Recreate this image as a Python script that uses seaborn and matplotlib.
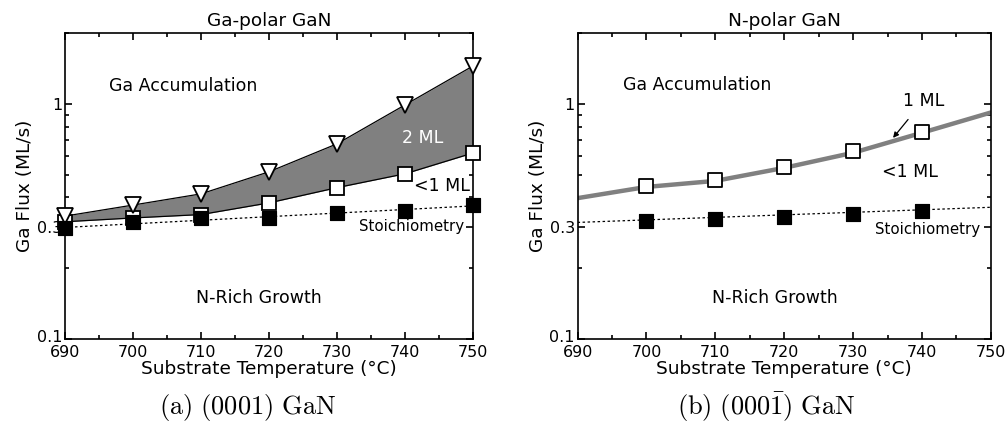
import numpy as np
import matplotlib
matplotlib.use('Agg')
import matplotlib.pyplot as plt
import matplotlib.transforms as mtransforms
import seaborn as sns
from matplotlib.ticker import MultipleLocator, LogLocator, NullFormatter, FixedLocator

sns.set_style('ticks')
plt.rcParams['font.family'] = ['DejaVu Sans']
plt.rcParams['mathtext.fontset'] = 'cm'
for k in ['text.color', 'axes.labelcolor', 'xtick.color', 'ytick.color', 'axes.edgecolor']:
    plt.rcParams[k] = 'black'

# Ga-polar (0001) data
temp_a = [690, 700, 710, 720, 730, 740, 750]
two_ml_a = [0.333, 0.371, 0.414, 0.514, 0.676, 0.99, 1.45]
one_ml_a = [0.315, 0.327, 0.338, 0.379, 0.44, 0.504, 0.618]
stoich_a = [0.297, 0.313, 0.326, 0.326, 0.344, 0.35, 0.372]
stoich_fit_x_a = [690, 750]
stoich_fit_a = [0.298, 0.368]

# N-polar (000-1) data
temp_b = [700, 710, 720, 730, 740]
one_ml_b = [0.449, 0.473, 0.538, 0.627, 0.762]
stoich_b = [0.316, 0.323, 0.329, 0.339, 0.35]
curve_x_b = [690, 700, 710, 720, 730, 740, 750]
curve_b = [0.397, 0.443, 0.47, 0.534, 0.619, 0.753, 0.918]
stoich_fit_x_b = [690, 750]
stoich_fit_b = [0.313, 0.363]

fig = plt.figure(figsize=(10.08, 4.28), dpi=100)
ax1 = fig.add_axes([0.0645, 0.208, 0.405, 0.715])
ax2 = fig.add_axes([0.573, 0.208, 0.410, 0.715])


def style_axis(ax, title):
    ax.set_yscale('log')
    ax.set_xlim(690, 750)
    ax.set_ylim(0.1, 2.0)
    ax.xaxis.set_major_locator(MultipleLocator(10))
    ax.xaxis.set_minor_locator(MultipleLocator(5))
    ax.yaxis.set_major_locator(FixedLocator([0.1, 0.3, 1]))
    ax.yaxis.set_minor_locator(LogLocator(base=10, subs=np.arange(2, 10)))
    ax.yaxis.set_minor_formatter(NullFormatter())
    ax.set_yticklabels(['0.1', '0.3', '1'])
    ax.tick_params(which='both', direction='in', top=True, right=True,
                   labelsize=11.5, width=1.2)
    ax.tick_params(which='major', length=5, pad=2)
    ax.tick_params(axis='x', which='major', pad=4)
    ax.tick_params(which='minor', length=3)
    for s in ax.spines.values():
        s.set_linewidth(1.2)
        s.set_visible(True)
    ax.set_xlabel('Substrate Temperature (°C)', fontsize=13.3, labelpad=0)
    ax.set_ylabel('Ga Flux (ML/s)', fontsize=13.3, labelpad=2)
    ax.set_title(title, fontsize=13.3, pad=5)
    # lift the bottom "0.1" label a touch so it clears "690"
    lab = ax.get_yticklabels()[0]
    lab.set_transform(lab.get_transform() +
                      mtransforms.ScaledTranslation(0, 2.5 / 72, fig.dpi_scale_trans))


# panel (a)
ax1.fill_between(temp_a, one_ml_a, two_ml_a, color='#808080', zorder=1, lw=0)
sns.lineplot(x=stoich_fit_x_a, y=stoich_fit_a, ax=ax1, color='black',
             lw=0.9, ls=(0, (2, 2)), zorder=2)
sns.lineplot(x=temp_a, y=one_ml_a, ax=ax1, color='black', lw=0.9,
             marker='s', markersize=10, mfc='white', mec='black', mew=1.3,
             zorder=3, clip_on=False)
sns.lineplot(x=temp_a, y=two_ml_a, ax=ax1, color='black', lw=0.9,
             marker='v', markersize=11.5, mfc='white', mec='black', mew=1.3,
             zorder=4, clip_on=False)
sns.scatterplot(x=temp_a, y=stoich_a, ax=ax1, marker='s', s=110,
                color='black', edgecolor='black', zorder=5, clip_on=False)
ax1.text(707.4, 1.19, 'Ga Accumulation', fontsize=12.5, ha='center', va='center')
ax1.text(742.5, 0.716, '2 ML', fontsize=12.5, ha='center', va='center', color='white')
ax1.text(745.4, 0.445, '<1 ML', fontsize=12.5, ha='center', va='center')
ax1.text(740.9, 0.30, 'Stoichiometry', fontsize=10.8, ha='center', va='center')
ax1.text(718.5, 0.150, 'N-Rich Growth', fontsize=12.5, ha='center', va='center')
style_axis(ax1, 'Ga-polar GaN')

# panel (b)
sns.lineplot(x=curve_x_b, y=curve_b, ax=ax2, color='#808080', lw=3.2, zorder=2)
sns.lineplot(x=stoich_fit_x_b, y=stoich_fit_b, ax=ax2, color='black',
             lw=0.9, ls=(0, (2, 2)), zorder=2)
sns.scatterplot(x=temp_b, y=one_ml_b, ax=ax2, marker='s', s=110,
                color='white', edgecolor='black', linewidth=1.3, zorder=4)
sns.scatterplot(x=temp_b, y=stoich_b, ax=ax2, marker='s', s=110,
                color='black', edgecolor='black', zorder=5)
ax2.annotate('1 ML', xy=(735.8, 0.716), xytext=(740.2, 1.03), fontsize=12.5,
             ha='center', va='center',
             arrowprops=dict(arrowstyle='-|>', color='black', lw=0.9,
                             shrinkA=6, shrinkB=0, mutation_scale=8))
ax2.text(707.4, 1.2, 'Ga Accumulation', fontsize=12.5, ha='center', va='center')
ax2.text(738.2, 0.515, '<1 ML', fontsize=12.5, ha='center', va='center')
ax2.text(740.8, 0.291, 'Stoichiometry', fontsize=10.8, ha='center', va='center')
ax2.text(718.6, 0.149, 'N-Rich Growth', fontsize=12.5, ha='center', va='center')
style_axis(ax2, 'N-polar GaN')

fig.text(0.2455, 0.047, r'$\mathrm{(a)\ (0001)\ GaN}$', fontsize=19,
         ha='center', va='center')
fig.text(0.7606, 0.047, r'$\mathrm{(b)\ (000\bar{1})\ GaN}$', fontsize=19,
         ha='center', va='center')

fig.savefig('out.png', dpi=100)
